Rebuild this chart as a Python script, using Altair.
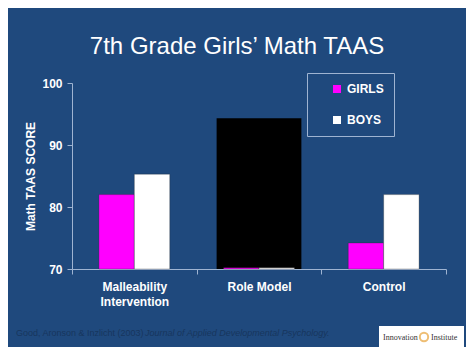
import altair as alt
import pandas as pd

categories = ["Malleability Intervention", "Role Model", "Control"]
groups = ["GIRLS", "BOYS"]
girls = [82.0, 70.2, 74.2]
boys = [85.3, 70.2, 82.0]
overlay_category = ["Role Model"]
overlay_value = [94.3]
y_ticks = [70, 80, 90, 100]
title_text = "7th Grade Girls\u2019 Math TAAS"
citation_plain = ["Good, Aronson & Inzlicht (2003)"]
citation_italic = ["Journal of Applied Developmental Psychology."]
logo_words = ["Innovation", "Institute"]

BG = "#1F497D"
AXIS = "#9fb4d2"
FONT = "Liberation Sans"

rows = []
for i, c in enumerate(categories):
    rows.append({"category": c, "group": "GIRLS", "score": girls[i]})
    rows.append({"category": c, "group": "BOYS", "score": boys[i]})
df = pd.DataFrame(rows)
df_over = pd.DataFrame({"category": overlay_category, "score": overlay_value})

yscale = alt.Scale(domain=[70, 100], zero=False, nice=False)
xscale = alt.Scale(domain=categories, paddingInner=0, paddingOuter=0)

x_axis = alt.Axis(
    title=None,
    tickBand="extent",
    labelExpr="datum.value == 'Malleability Intervention' ? ['Malleability', 'Intervention'] : datum.value",
    labelLineHeight=15,
    labelPadding=7,
    labelAngle=0,
)
x_enc = alt.X("category:N", scale=xscale, sort=categories, axis=x_axis)
y_enc = alt.Y(
    "score:Q",
    scale=yscale,
    axis=alt.Axis(
        values=y_ticks,
        title="Math TAAS SCORE",
        titlePadding=4,
        labelPadding=5,
    ),
)

overlay = alt.Chart(df_over).mark_bar(color="#000000", width=alt.RelativeBandSize(0.68)).encode(
    x=x_enc,
    y=y_enc,
    y2=alt.datum(70),
)

bars = alt.Chart(df).mark_bar(stroke="#222222", strokeWidth=0.3).encode(
    x=x_enc,
    xOffset=alt.XOffset("group:N", sort=groups, scale=alt.Scale(domain=groups, paddingInner=0, paddingOuter=0.76)),
    y=y_enc,
    y2=alt.datum(70),
    color=alt.Color(
        "group:N",
        sort=groups,
        scale=alt.Scale(domain=groups, range=["#FF00FF", "#FFFFFF"]),
        legend=alt.Legend(
            title=None,
            orient="none",
            legendX=235,
            legendY=-10,
            padding=10,
            strokeColor=AXIS,
            symbolType="square",
            symbolSize=64,
            symbolStrokeWidth=0,
            symbolOffset=14,
            labelOffset=4,
            rowPadding=19,
            labelExpr="datum.label + '    '",
        ),
    ),
)

cit1 = alt.Chart(pd.DataFrame({"t": citation_plain})).mark_text(
    align="left", baseline="alphabetic", font=FONT, fontSize=9, color="#17365D"
).encode(text="t:N", x=alt.value(-56), y=alt.value(253))
cit2 = alt.Chart(pd.DataFrame({"t": citation_italic})).mark_text(
    align="left", baseline="alphabetic", font=FONT, fontSize=9, fontStyle="italic", color="#17365D"
).encode(text="t:N", x=alt.value(73), y=alt.value(253))

logo_box = alt.Chart(pd.DataFrame({"a": [0]})).mark_rect(color="#FFFFFF").encode(
    x=alt.value(307), x2=alt.value(392), y=alt.value(243), y2=alt.value(264)
)
logo_ring = alt.Chart(pd.DataFrame({"a": [0]})).mark_point(
    shape="circle", size=70, stroke="#E8A33A", strokeWidth=2, filled=False
).encode(x=alt.value(352), y=alt.value(254))
logo_t1 = alt.Chart(pd.DataFrame({"t": [logo_words[0]]})).mark_text(
    align="left", baseline="middle", font="Liberation Serif", fontSize=8, color="#333333"
).encode(text="t:N", x=alt.value(311), y=alt.value(255))
logo_t2 = alt.Chart(pd.DataFrame({"t": [logo_words[1]]})).mark_text(
    align="left", baseline="middle", font="Liberation Serif", fontSize=8, color="#333333"
).encode(text="t:N", x=alt.value(359), y=alt.value(255))

chart = alt.layer(overlay, bars, cit1, cit2, logo_box, logo_ring, logo_t1, logo_t2).properties(
    width=374,
    height=186,
    background=BG,
    autosize=alt.AutoSizeParams(type="none"),
    padding={"left": 64, "top": 75, "right": 20, "bottom": 78},
    title=alt.TitleParams(
        text=title_text,
        font=FONT,
        fontSize=24,
        fontWeight="normal",
        color="#FFFFFF",
        anchor="middle",
        dx=-22,
        offset=14,
    ),
).configure_view(stroke=None).configure_axis(
    domainColor=AXIS,
    tickColor=AXIS,
    tickSize=5,
    grid=False,
    labelColor="#FFFFFF",
    labelFont=FONT,
    labelFontSize=12,
    labelFontWeight="bold",
    titleColor="#FFFFFF",
    titleFont=FONT,
    titleFontSize=12,
    titleFontWeight="bold",
).configure_legend(
    labelColor="#FFFFFF",
    labelFont=FONT,
    labelFontSize=12,
    labelFontWeight="bold",
)

chart.save("out.html", embed_options={"renderer": "svg", "actions": False})
